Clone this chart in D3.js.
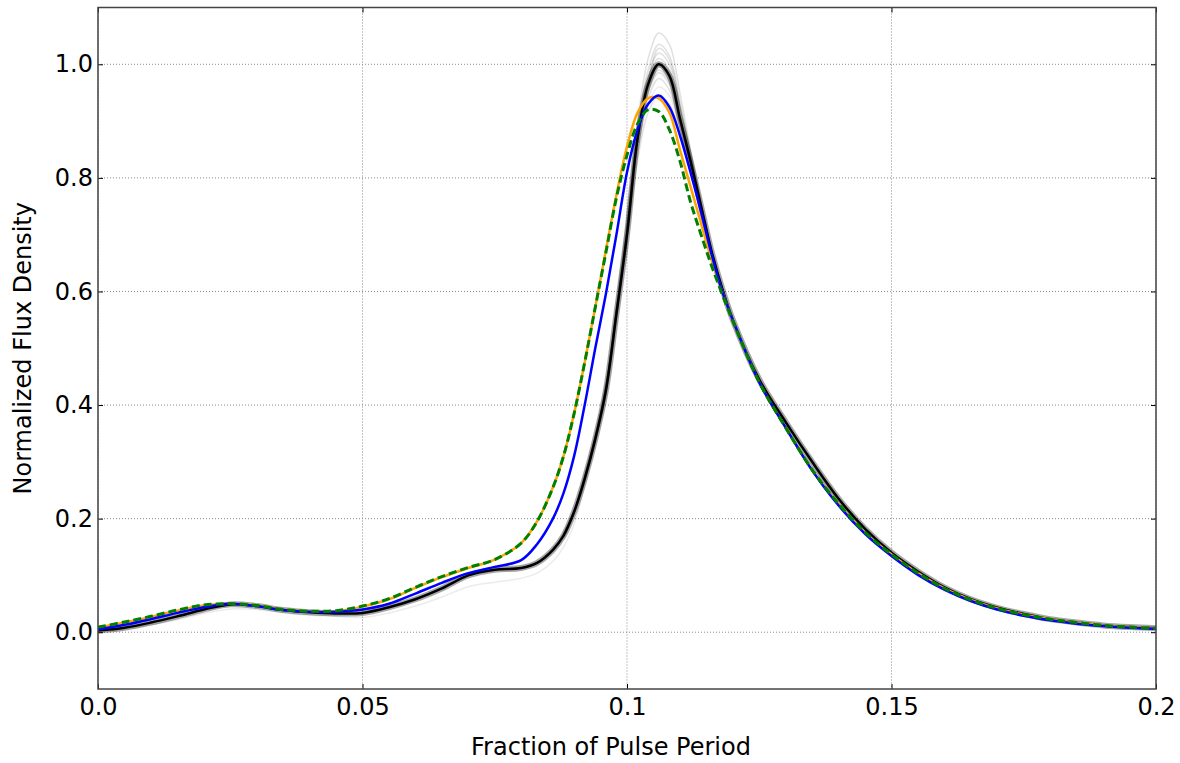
<!DOCTYPE html>
<html>
<head>
<meta charset="utf-8">
<script src="https://cdn.jsdelivr.net/npm/d3@7"></script>
<style>
  body { margin: 0; background: #fff; }
  svg text { font-family: "DejaVu Sans", sans-serif; fill: #000; }
</style>
</head>
<body>
<svg id="chart"></svg>
<script>
// fraction of pulse period, shared by the full-length curves
const phase = [0, 0.005, 0.01, 0.015, 0.02, 0.025, 0.03, 0.035, 0.04, 0.045, 0.05, 0.055, 0.06, 0.065, 0.07,
  0.075, 0.08, 0.083, 0.086, 0.088, 0.09, 0.092, 0.094, 0.096, 0.098, 0.1, 0.102, 0.104, 0.106, 0.108, 0.11,
  0.112, 0.114, 0.116, 0.118, 0.12, 0.125, 0.13, 0.135, 0.14, 0.145, 0.15, 0.155, 0.16, 0.165, 0.17, 0.175,
  0.18, 0.185, 0.19, 0.195, 0.2];

const blackMean = [0.003, 0.008, 0.017, 0.028, 0.040, 0.049, 0.046, 0.039, 0.035, 0.033, 0.034, 0.044, 0.058, 0.077, 0.100,
  0.110, 0.113, 0.122, 0.145, 0.170, 0.212, 0.270, 0.340, 0.425, 0.560, 0.700, 0.870, 0.965, 1.000, 0.980, 0.905,
  0.830, 0.750, 0.670, 0.605, 0.550, 0.445, 0.370, 0.300, 0.235, 0.182, 0.140, 0.107, 0.079, 0.058, 0.043, 0.032,
  0.023, 0.017, 0.012, 0.009, 0.007];

const grayLow = [0.000, 0.005, 0.013, 0.022, 0.033, 0.041, 0.040, 0.034, 0.030, 0.028, 0.026, 0.034, 0.046, 0.062, 0.080,
  0.088, 0.095, 0.104, 0.125, 0.150, 0.190, 0.260, 0.330, 0.410, 0.540, 0.680, 0.840, 0.930, 0.960, 0.945, 0.880,
  0.810, 0.740, 0.665, 0.600, 0.545, 0.440, 0.360, 0.290, 0.228, 0.176, 0.134, 0.100, 0.073, 0.054, 0.040, 0.029,
  0.021, 0.015, 0.011, 0.008, 0.006];

const orange = [0.008, 0.017, 0.027, 0.038, 0.047, 0.050, 0.047, 0.040, 0.037, 0.037, 0.045, 0.058, 0.078, 0.097, 0.113,
  0.128, 0.157, 0.195, 0.255, 0.310, 0.385, 0.475, 0.572, 0.672, 0.770, 0.855, 0.915, 0.940, 0.940, 0.915, 0.850,
  0.785, 0.720, 0.655, 0.600, 0.550, 0.440, 0.360, 0.285, 0.225, 0.175, 0.137, 0.104, 0.077, 0.057, 0.042, 0.031,
  0.023, 0.017, 0.012, 0.009, 0.007];

const blue = [0.005, 0.013, 0.023, 0.034, 0.044, 0.050, 0.046, 0.039, 0.036, 0.036, 0.040, 0.050, 0.068, 0.087, 0.104,
  0.115, 0.127, 0.155, 0.200, 0.245, 0.310, 0.400, 0.500, 0.595, 0.700, 0.810, 0.885, 0.930, 0.945, 0.925, 0.875,
  0.810, 0.740, 0.665, 0.600, 0.550, 0.440, 0.360, 0.285, 0.223, 0.173, 0.134, 0.101, 0.075, 0.055, 0.040, 0.029,
  0.021, 0.015, 0.011, 0.008, 0.006];

const green = [0.009, 0.018, 0.028, 0.039, 0.048, 0.050, 0.047, 0.040, 0.037, 0.038, 0.046, 0.059, 0.079, 0.098, 0.114,
  0.128, 0.157, 0.195, 0.255, 0.310, 0.385, 0.475, 0.572, 0.668, 0.765, 0.840, 0.895, 0.920, 0.917, 0.885, 0.830,
  0.758, 0.700, 0.645, 0.595, 0.548, 0.440, 0.360, 0.286, 0.226, 0.176, 0.137, 0.104, 0.077, 0.057, 0.042, 0.031,
  0.023, 0.017, 0.012, 0.009, 0.007];

// ensemble members only differ from the mean around the main peak
const peakPhase = [0.088, 0.09, 0.092, 0.094, 0.096, 0.098, 0.1, 0.102, 0.104, 0.106, 0.108, 0.11, 0.112, 0.114, 0.116, 0.118, 0.12];
const ensemble = [
  [0.170, 0.212, 0.270, 0.340, 0.430, 0.580, 0.730, 0.900, 1.010, 1.055, 1.035, 0.950, 0.850, 0.760, 0.675, 0.607, 0.550],
  [0.170, 0.212, 0.270, 0.340, 0.420, 0.570, 0.720, 0.890, 0.990, 1.035, 1.015, 0.935, 0.845, 0.755, 0.672, 0.606, 0.550],
  [0.165, 0.207, 0.265, 0.335, 0.420, 0.560, 0.710, 0.880, 0.980, 1.020, 1.000, 0.925, 0.840, 0.752, 0.670, 0.605, 0.550],
  [0.170, 0.212, 0.270, 0.345, 0.430, 0.565, 0.700, 0.860, 0.955, 0.990, 0.970, 0.900, 0.825, 0.748, 0.668, 0.604, 0.550],
  [0.175, 0.215, 0.280, 0.350, 0.440, 0.570, 0.700, 0.850, 0.940, 0.975, 0.955, 0.890, 0.820, 0.745, 0.668, 0.604, 0.550],
  [0.170, 0.212, 0.275, 0.345, 0.435, 0.560, 0.690, 0.830, 0.915, 0.945, 0.930, 0.875, 0.810, 0.740, 0.665, 0.603, 0.550],
  [0.168, 0.210, 0.268, 0.338, 0.425, 0.570, 0.715, 0.875, 0.975, 1.010, 0.990, 0.915, 0.835, 0.752, 0.670, 0.605, 0.550],
  [0.172, 0.212, 0.272, 0.342, 0.428, 0.555, 0.700, 0.865, 0.960, 0.995, 0.975, 0.900, 0.828, 0.749, 0.669, 0.605, 0.550],
  [0.170, 0.211, 0.270, 0.340, 0.426, 0.565, 0.705, 0.870, 0.970, 1.028, 1.008, 0.928, 0.842, 0.754, 0.671, 0.605, 0.550],
  [0.171, 0.212, 0.273, 0.344, 0.432, 0.562, 0.698, 0.858, 0.950, 0.985, 0.965, 0.895, 0.822, 0.747, 0.668, 0.604, 0.550]
];

const xTicks = [0, 0.05, 0.1, 0.15, 0.2];
const xTickLabels = ["0.0", "0.05", "0.1", "0.15", "0.2"];
const yTicks = [0, 0.2, 0.4, 0.6, 0.8, 1.0];

const margin = { top: 7.5, right: 24, bottom: 74, left: 98 },
    width = 1180 - margin.left - margin.right,
    height = 763 - margin.top - margin.bottom;

const root = d3.select("#chart")
    .attr("width", 1180)
    .attr("height", 763);

const svg = root.append("g")
    .attr("transform", `translate(${margin.left},${margin.top})`);

const x = d3.scaleLinear().domain([0, 0.2]).range([0, width]);
const y = d3.scaleLinear().domain([-0.1, 1.1]).range([height, 0]);

// grid
svg.append("g")
  .selectAll("line")
  .data(xTicks)
  .join("line")
    .attr("x1", d => x(d)).attr("x2", d => x(d))
    .attr("y1", 0).attr("y2", height)
    .attr("stroke", "#8a8a8a").attr("stroke-width", 1).attr("stroke-dasharray", "1,2");

svg.append("g")
  .selectAll("line")
  .data(yTicks)
  .join("line")
    .attr("x1", 0).attr("x2", width)
    .attr("y1", d => y(d)).attr("y2", d => y(d))
    .attr("stroke", "#8a8a8a").attr("stroke-width", 1).attr("stroke-dasharray", "1,2");

svg.append("clipPath").attr("id", "clip")
  .append("rect").attr("width", width).attr("height", height);

const plot = svg.append("g").attr("clip-path", "url(#clip)");

const line = d3.line()
    .x(d => x(d[0]))
    .y(d => y(d[1]))
    .curve(d3.curveCatmullRom.alpha(0.5));

const pairs = (xs, ys) => xs.map((v, i) => [v, ys[i]]);

// ensemble of individual profiles
plot.append("path")
  .attr("d", line(pairs(phase, grayLow)))
  .attr("fill", "none").attr("stroke", "#000").attr("stroke-opacity", 0.08).attr("stroke-width", 1.5);

plot.selectAll("path.member")
  .data(ensemble)
  .join("path")
    .attr("class", "member")
    .attr("d", d => line(pairs(peakPhase, d)))
    .attr("fill", "none").attr("stroke", "#000").attr("stroke-opacity", 0.12).attr("stroke-width", 1.5);

// dark halo of the overlapping profiles, then the mean
plot.append("path")
  .attr("d", line(pairs(phase, blackMean)))
  .attr("fill", "none").attr("stroke", "#000").attr("stroke-opacity", 0.35).attr("stroke-width", 6);

plot.append("path")
  .attr("d", line(pairs(phase, blackMean)))
  .attr("fill", "none").attr("stroke", "#000").attr("stroke-width", 2.5);

plot.append("path")
  .attr("d", line(pairs(phase, orange)))
  .attr("fill", "none").attr("stroke", "#ffa500").attr("stroke-width", 2.5);

plot.append("path")
  .attr("d", line(pairs(phase, blue)))
  .attr("fill", "none").attr("stroke", "#0000ff").attr("stroke-width", 2.5);

plot.append("path")
  .attr("d", line(pairs(phase, green)))
  .attr("fill", "none").attr("stroke", "#008000").attr("stroke-width", 3)
  .attr("stroke-dasharray", "8,4");

// axes, matplotlib classic: ticks inside on all four sides
const tickLen = 5;
svg.append("g")
    .attr("transform", `translate(0,${height})`)
    .call(d3.axisBottom(x).tickValues(xTicks).tickSize(-tickLen).tickPadding(9)
      .tickFormat((d, i) => xTickLabels[i]))
    .call(g => g.select(".domain").remove())
    .call(g => g.selectAll("text").style("font-size", "24px"));

svg.append("g")
    .call(d3.axisTop(x).tickValues(xTicks).tickSize(-tickLen).tickFormat(""))
    .call(g => g.select(".domain").remove());

svg.append("g")
    .call(d3.axisLeft(y).tickValues(yTicks).tickSize(-tickLen).tickPadding(5)
      .tickFormat(d3.format(".1f")))
    .call(g => g.select(".domain").remove())
    .call(g => g.selectAll("text").style("font-size", "24px"));

svg.append("g")
    .attr("transform", `translate(${width},0)`)
    .call(d3.axisRight(y).tickValues(yTicks).tickSize(-tickLen).tickFormat(""))
    .call(g => g.select(".domain").remove());

// frame
svg.append("rect")
    .attr("width", width).attr("height", height)
    .attr("fill", "none").attr("stroke", "#444").attr("stroke-width", 1.5);

// axis titles
svg.append("text")
    .attr("x", width / 2 - 16)
    .attr("y", height + 66)
    .attr("text-anchor", "middle")
    .style("font-size", "24px")
    .text("Fraction of Pulse Period");

svg.append("text")
    .attr("transform", `translate(${-margin.left + 31},${height / 2}) rotate(-90)`)
    .attr("text-anchor", "middle")
    .style("font-size", "24px")
    .text("Normalized Flux Density");
</script>
</body>
</html>
